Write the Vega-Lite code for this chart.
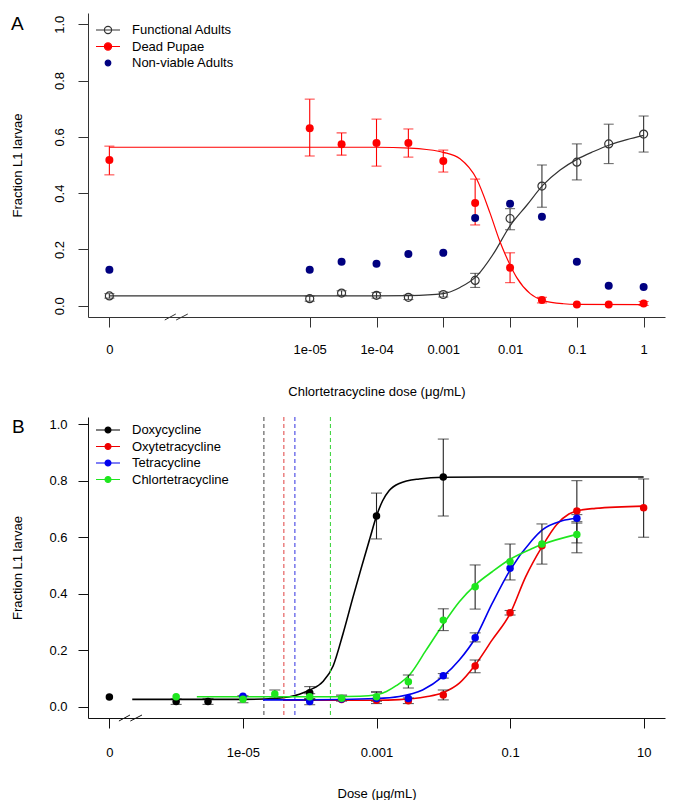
{
  "$schema": "https://vega.github.io/schema/vega-lite/v6.json",
  "background": "white",
  "autosize": {"type": "pad"},
  "padding": {"left": 10, "top": 13, "right": 5, "bottom": 0},
  "config": {
    "view": {"stroke": null},
    "font": "Liberation Sans",
    "axis": {"labelFont": "Liberation Sans", "titleFont": "Liberation Sans", "labelFontSize": 13, "titleFontSize": 13, "titleFontWeight": "normal", "labelColor": "#000", "titleColor": "#000", "grid": false, "tickSize": 10, "domainColor": "#333", "tickColor": "#333", "labelFlush": false, "labelOverlap": false},
    "legend": {"labelFont": "Liberation Sans", "labelFontSize": 13, "labelColor": "#000", "labelOffset": 15, "rowPadding": 0.5, "padding": 0},
    "title": {"font": "Liberation Sans", "fontSize": 19, "fontWeight": "normal", "color": "#000"}
  },
  "resolve": {
    "scale": {"stroke": "independent", "fill": "independent", "shape": "independent", "color": "independent"},
    "legend": {"stroke": "independent", "fill": "independent", "shape": "independent", "color": "independent"}
  },
  "datasets": {
    "a_points": [
      {"dose": 1e-8, "series": "Functional Adults", "value": 0.035, "lo": 0.027, "hi": 0.043},
      {"dose": 1e-5, "series": "Functional Adults", "value": 0.025, "lo": 0.016, "hi": 0.034},
      {"dose": 3e-5, "series": "Functional Adults", "value": 0.045, "lo": 0.037, "hi": 0.053},
      {"dose": 1e-4, "series": "Functional Adults", "value": 0.037, "lo": 0.027, "hi": 0.047},
      {"dose": 3e-4, "series": "Functional Adults", "value": 0.03, "lo": 0.022, "hi": 0.038},
      {"dose": 1e-3, "series": "Functional Adults", "value": 0.04, "lo": 0.031, "hi": 0.049},
      {"dose": 3e-3, "series": "Functional Adults", "value": 0.09, "lo": 0.065, "hi": 0.115},
      {"dose": 1e-2, "series": "Functional Adults", "value": 0.31, "lo": 0.27, "hi": 0.345},
      {"dose": 3e-2, "series": "Functional Adults", "value": 0.425, "lo": 0.35, "hi": 0.5},
      {"dose": 0.1, "series": "Functional Adults", "value": 0.51, "lo": 0.447, "hi": 0.575},
      {"dose": 0.3, "series": "Functional Adults", "value": 0.575, "lo": 0.505, "hi": 0.645},
      {"dose": 1, "series": "Functional Adults", "value": 0.61, "lo": 0.546, "hi": 0.674},
      {"dose": 1e-8, "series": "Dead Pupae", "value": 0.518, "lo": 0.465, "hi": 0.567},
      {"dose": 1e-5, "series": "Dead Pupae", "value": 0.631, "lo": 0.532, "hi": 0.734},
      {"dose": 3e-5, "series": "Dead Pupae", "value": 0.574, "lo": 0.535, "hi": 0.614},
      {"dose": 1e-4, "series": "Dead Pupae", "value": 0.578, "lo": 0.496, "hi": 0.663},
      {"dose": 3e-4, "series": "Dead Pupae", "value": 0.578, "lo": 0.528, "hi": 0.628},
      {"dose": 1e-3, "series": "Dead Pupae", "value": 0.514, "lo": 0.475, "hi": 0.553},
      {"dose": 3e-3, "series": "Dead Pupae", "value": 0.365, "lo": 0.287, "hi": 0.45},
      {"dose": 1e-2, "series": "Dead Pupae", "value": 0.135, "lo": 0.082, "hi": 0.188},
      {"dose": 3e-2, "series": "Dead Pupae", "value": 0.02, "lo": 0.01, "hi": 0.03},
      {"dose": 0.1, "series": "Dead Pupae", "value": 0.004},
      {"dose": 0.3, "series": "Dead Pupae", "value": 0.004},
      {"dose": 1, "series": "Dead Pupae", "value": 0.008, "lo": 0.001, "hi": 0.015},
      {"dose": 1e-8, "series": "Non-viable Adults", "value": 0.128},
      {"dose": 1e-5, "series": "Non-viable Adults", "value": 0.128},
      {"dose": 3e-5, "series": "Non-viable Adults", "value": 0.156},
      {"dose": 1e-4, "series": "Non-viable Adults", "value": 0.149},
      {"dose": 3e-4, "series": "Non-viable Adults", "value": 0.184},
      {"dose": 1e-3, "series": "Non-viable Adults", "value": 0.188},
      {"dose": 3e-3, "series": "Non-viable Adults", "value": 0.312},
      {"dose": 1e-2, "series": "Non-viable Adults", "value": 0.362},
      {"dose": 3e-2, "series": "Non-viable Adults", "value": 0.316},
      {"dose": 0.1, "series": "Non-viable Adults", "value": 0.156},
      {"dose": 0.3, "series": "Non-viable Adults", "value": 0.071},
      {"dose": 1, "series": "Non-viable Adults", "value": 0.067}
    ],
    "a_curves": [
      {"dose": 1e-8, "series": "Functional Adults", "value": 0.035},
      {"dose": 1e-5, "series": "Functional Adults", "value": 0.035},
      {"dose": 1e-4, "series": "Functional Adults", "value": 0.035},
      {"dose": 3.16e-4, "series": "Functional Adults", "value": 0.036},
      {"dose": 1e-3, "series": "Functional Adults", "value": 0.043},
      {"dose": 1.78e-3, "series": "Functional Adults", "value": 0.065},
      {"dose": 3.16e-3, "series": "Functional Adults", "value": 0.105},
      {"dose": 5.62e-3, "series": "Functional Adults", "value": 0.184},
      {"dose": 1e-2, "series": "Functional Adults", "value": 0.284},
      {"dose": 1.78e-2, "series": "Functional Adults", "value": 0.357},
      {"dose": 3.16e-2, "series": "Functional Adults", "value": 0.43},
      {"dose": 5.62e-2, "series": "Functional Adults", "value": 0.482},
      {"dose": 0.1, "series": "Functional Adults", "value": 0.52},
      {"dose": 0.178, "series": "Functional Adults", "value": 0.548},
      {"dose": 0.316, "series": "Functional Adults", "value": 0.572},
      {"dose": 0.562, "series": "Functional Adults", "value": 0.59},
      {"dose": 1, "series": "Functional Adults", "value": 0.605},
      {"dose": 1e-8, "series": "Dead Pupae", "value": 0.563},
      {"dose": 1e-5, "series": "Dead Pupae", "value": 0.563},
      {"dose": 1e-4, "series": "Dead Pupae", "value": 0.563},
      {"dose": 3.16e-4, "series": "Dead Pupae", "value": 0.56},
      {"dose": 5.62e-4, "series": "Dead Pupae", "value": 0.555},
      {"dose": 1e-3, "series": "Dead Pupae", "value": 0.545},
      {"dose": 1.78e-3, "series": "Dead Pupae", "value": 0.522},
      {"dose": 3.16e-3, "series": "Dead Pupae", "value": 0.45},
      {"dose": 5e-3, "series": "Dead Pupae", "value": 0.33},
      {"dose": 7e-3, "series": "Dead Pupae", "value": 0.23},
      {"dose": 1e-2, "series": "Dead Pupae", "value": 0.145},
      {"dose": 1.26e-2, "series": "Dead Pupae", "value": 0.1},
      {"dose": 2e-2, "series": "Dead Pupae", "value": 0.043},
      {"dose": 3.16e-2, "series": "Dead Pupae", "value": 0.018},
      {"dose": 6.3e-2, "series": "Dead Pupae", "value": 0.007},
      {"dose": 0.1, "series": "Dead Pupae", "value": 0.005},
      {"dose": 1, "series": "Dead Pupae", "value": 0.004}
    ],
    "a_break": [{"dose": 1e-7, "value": -0.04}],
    "b_points": [
      {"dose": 1e-7, "series": "Doxycycline", "value": 0.035},
      {"dose": 1e-6, "series": "Doxycycline", "value": 0.019, "lo": 0.009, "hi": 0.029},
      {"dose": 3e-6, "series": "Doxycycline", "value": 0.019, "lo": 0.009, "hi": 0.03},
      {"dose": 1e-4, "series": "Doxycycline", "value": 0.05, "lo": 0.028, "hi": 0.072},
      {"dose": 1e-3, "series": "Doxycycline", "value": 0.675, "lo": 0.594, "hi": 0.756},
      {"dose": 1e-2, "series": "Doxycycline", "value": 0.813, "lo": 0.675, "hi": 0.947},
      {"dose": 3e-4, "series": "Oxytetracycline", "value": 0.026},
      {"dose": 1e-3, "series": "Oxytetracycline", "value": 0.024, "lo": 0.012, "hi": 0.054},
      {"dose": 3e-3, "series": "Oxytetracycline", "value": 0.022, "lo": 0.012, "hi": 0.032},
      {"dose": 1e-2, "series": "Oxytetracycline", "value": 0.042, "lo": 0.025, "hi": 0.06},
      {"dose": 3e-2, "series": "Oxytetracycline", "value": 0.145, "lo": 0.121, "hi": 0.166},
      {"dose": 0.1, "series": "Oxytetracycline", "value": 0.333, "lo": 0.325, "hi": 0.341},
      {"dose": 0.3, "series": "Oxytetracycline", "value": 0.57},
      {"dose": 1, "series": "Oxytetracycline", "value": 0.693, "lo": 0.58, "hi": 0.8},
      {"dose": 10, "series": "Oxytetracycline", "value": 0.704, "lo": 0.6, "hi": 0.806},
      {"dose": 1e-5, "series": "Tetracycline", "value": 0.038},
      {"dose": 1e-4, "series": "Tetracycline", "value": 0.019, "lo": 0.008, "hi": 0.03},
      {"dose": 3e-4, "series": "Tetracycline", "value": 0.028},
      {"dose": 1e-3, "series": "Tetracycline", "value": 0.03},
      {"dose": 3e-3, "series": "Tetracycline", "value": 0.03},
      {"dose": 1e-2, "series": "Tetracycline", "value": 0.11, "lo": 0.102, "hi": 0.118},
      {"dose": 3e-2, "series": "Tetracycline", "value": 0.245, "lo": 0.23, "hi": 0.262},
      {"dose": 0.1, "series": "Tetracycline", "value": 0.49},
      {"dose": 1, "series": "Tetracycline", "value": 0.667, "lo": 0.655, "hi": 0.68},
      {"dose": 1e-6, "series": "Chlortetracycline", "value": 0.036},
      {"dose": 1e-5, "series": "Chlortetracycline", "value": 0.027, "lo": 0.015, "hi": 0.04},
      {"dose": 3e-5, "series": "Chlortetracycline", "value": 0.046, "lo": 0.031, "hi": 0.06},
      {"dose": 1e-4, "series": "Chlortetracycline", "value": 0.036, "lo": 0.025, "hi": 0.047},
      {"dose": 3e-4, "series": "Chlortetracycline", "value": 0.031, "lo": 0.02, "hi": 0.042},
      {"dose": 1e-3, "series": "Chlortetracycline", "value": 0.036, "lo": 0.02, "hi": 0.052},
      {"dose": 3e-3, "series": "Chlortetracycline", "value": 0.089, "lo": 0.067, "hi": 0.113},
      {"dose": 1e-2, "series": "Chlortetracycline", "value": 0.307, "lo": 0.27, "hi": 0.347},
      {"dose": 3e-2, "series": "Chlortetracycline", "value": 0.425, "lo": 0.346, "hi": 0.502},
      {"dose": 0.1, "series": "Chlortetracycline", "value": 0.513, "lo": 0.449, "hi": 0.576},
      {"dose": 0.3, "series": "Chlortetracycline", "value": 0.576, "lo": 0.505, "hi": 0.647},
      {"dose": 1, "series": "Chlortetracycline", "value": 0.61, "lo": 0.545, "hi": 0.65}
    ],
    "b_curves": [
      {"dose": 2.2e-7, "series": "Doxycycline", "value": 0.027},
      {"dose": 1e-6, "series": "Doxycycline", "value": 0.027},
      {"dose": 1e-5, "series": "Doxycycline", "value": 0.027},
      {"dose": 3e-5, "series": "Doxycycline", "value": 0.03},
      {"dose": 5e-5, "series": "Doxycycline", "value": 0.036},
      {"dose": 7e-5, "series": "Doxycycline", "value": 0.045},
      {"dose": 1e-4, "series": "Doxycycline", "value": 0.06},
      {"dose": 1.58e-4, "series": "Doxycycline", "value": 0.09},
      {"dose": 2.24e-4, "series": "Doxycycline", "value": 0.145},
      {"dose": 3.16e-4, "series": "Doxycycline", "value": 0.26},
      {"dose": 4.47e-4, "series": "Doxycycline", "value": 0.39},
      {"dose": 5.89e-4, "series": "Doxycycline", "value": 0.49},
      {"dose": 7.94e-4, "series": "Doxycycline", "value": 0.595},
      {"dose": 1e-3, "series": "Doxycycline", "value": 0.675},
      {"dose": 1.23e-3, "series": "Doxycycline", "value": 0.728},
      {"dose": 1.55e-3, "series": "Doxycycline", "value": 0.765},
      {"dose": 2.19e-3, "series": "Doxycycline", "value": 0.79},
      {"dose": 4.37e-3, "series": "Doxycycline", "value": 0.806},
      {"dose": 1e-2, "series": "Doxycycline", "value": 0.812},
      {"dose": 0.1, "series": "Doxycycline", "value": 0.813},
      {"dose": 10, "series": "Doxycycline", "value": 0.813},
      {"dose": 4e-5, "series": "Oxytetracycline", "value": 0.024},
      {"dose": 1e-4, "series": "Oxytetracycline", "value": 0.024},
      {"dose": 1e-3, "series": "Oxytetracycline", "value": 0.024},
      {"dose": 2.19e-3, "series": "Oxytetracycline", "value": 0.026},
      {"dose": 5.5e-3, "series": "Oxytetracycline", "value": 0.036},
      {"dose": 9.8e-3, "series": "Oxytetracycline", "value": 0.05},
      {"dose": 1.74e-2, "series": "Oxytetracycline", "value": 0.084},
      {"dose": 3e-2, "series": "Oxytetracycline", "value": 0.148},
      {"dose": 5.4e-2, "series": "Oxytetracycline", "value": 0.237},
      {"dose": 0.1, "series": "Oxytetracycline", "value": 0.33},
      {"dose": 0.171, "series": "Oxytetracycline", "value": 0.46},
      {"dose": 0.3, "series": "Oxytetracycline", "value": 0.566},
      {"dose": 0.5, "series": "Oxytetracycline", "value": 0.645},
      {"dose": 0.76, "series": "Oxytetracycline", "value": 0.682},
      {"dose": 1, "series": "Oxytetracycline", "value": 0.693},
      {"dose": 1.9, "series": "Oxytetracycline", "value": 0.702},
      {"dose": 10, "series": "Oxytetracycline", "value": 0.71},
      {"dose": 2e-5, "series": "Tetracycline", "value": 0.025},
      {"dose": 1e-4, "series": "Tetracycline", "value": 0.025},
      {"dose": 1e-3, "series": "Tetracycline", "value": 0.03},
      {"dose": 2.19e-3, "series": "Tetracycline", "value": 0.037},
      {"dose": 4.9e-3, "series": "Tetracycline", "value": 0.06},
      {"dose": 9.8e-3, "series": "Tetracycline", "value": 0.107},
      {"dose": 1.74e-2, "series": "Tetracycline", "value": 0.166},
      {"dose": 3e-2, "series": "Tetracycline", "value": 0.243},
      {"dose": 5.4e-2, "series": "Tetracycline", "value": 0.366},
      {"dose": 0.1, "series": "Tetracycline", "value": 0.484},
      {"dose": 0.215, "series": "Tetracycline", "value": 0.59},
      {"dose": 0.3, "series": "Tetracycline", "value": 0.625},
      {"dose": 0.6, "series": "Tetracycline", "value": 0.658},
      {"dose": 1, "series": "Tetracycline", "value": 0.667},
      {"dose": 2.04e-6, "series": "Chlortetracycline", "value": 0.036},
      {"dose": 1e-4, "series": "Chlortetracycline", "value": 0.036},
      {"dose": 5.6e-4, "series": "Chlortetracycline", "value": 0.038},
      {"dose": 1e-3, "series": "Chlortetracycline", "value": 0.043},
      {"dose": 1.41e-3, "series": "Chlortetracycline", "value": 0.055},
      {"dose": 2e-3, "series": "Chlortetracycline", "value": 0.076},
      {"dose": 3.16e-3, "series": "Chlortetracycline", "value": 0.115},
      {"dose": 5.5e-3, "series": "Chlortetracycline", "value": 0.2},
      {"dose": 9.8e-3, "series": "Chlortetracycline", "value": 0.29},
      {"dose": 1.74e-2, "series": "Chlortetracycline", "value": 0.372},
      {"dose": 3e-2, "series": "Chlortetracycline", "value": 0.431},
      {"dose": 5.4e-2, "series": "Chlortetracycline", "value": 0.478},
      {"dose": 0.1, "series": "Chlortetracycline", "value": 0.522},
      {"dose": 0.215, "series": "Chlortetracycline", "value": 0.56},
      {"dose": 0.3, "series": "Chlortetracycline", "value": 0.574},
      {"dose": 1, "series": "Chlortetracycline", "value": 0.61}
    ],
    "b_ic": [
      {"dose": 2.06e-5, "series": "Doxycycline"},
      {"dose": 4.1e-5, "series": "Oxytetracycline"},
      {"dose": 6.0e-5, "series": "Tetracycline"},
      {"dose": 2.04e-4, "series": "Chlortetracycline"}
    ],
    "b_break": [{"dose": 2.06e-7, "value": -0.039}]
  },
  "spacing": 18,
  "vconcat": [
    {
      "width": 577,
      "height": 304,
      "title": {"text": "A", "anchor": "start", "frame": "bounds", "baseline": "alphabetic", "offset": -16, "dy": 20},
      "encoding": {
        "x": {"field": "dose", "type": "quantitative", "scale": {"type": "log", "domain": [4.786e-9, 2.089], "nice": false}}
      },
      "layer": [
        {
          "data": {"name": "a_curves"},
          "transform": [{"filter": "datum.series == 'Functional Adults'"}],
          "mark": {"type": "line", "strokeWidth": 1.2, "interpolate": "monotone", "color": "#333333"},
          "encoding": {
            "x": {"field": "dose", "type": "quantitative", "scale": {"type": "log", "domain": [4.786e-9, 2.089], "nice": false},
              "axis": {"values": [1e-8, 1e-5, 1e-4, 1e-3, 1e-2, 0.1, 1], "labelExpr": "datum.value < 1e-7 ? '0' : datum.value < 5e-5 ? '1e-05' : datum.value < 5e-4 ? '1e-04' : datum.value < 5e-3 ? '0.001' : datum.value < 0.05 ? '0.01' : datum.value < 0.5 ? '0.1' : '1'", "labelPadding": 16, "title": "Chlortetracycline dose (μg/mL)", "titlePadding": 29}},
            "y": {"field": "value", "type": "quantitative", "scale": {"domain": [-0.04, 1.04], "nice": false, "zero": false},
              "axis": {"values": [0, 0.2, 0.4, 0.6, 0.8, 1], "format": ".1f", "labelAngle": 270, "labelAlign": "center", "labelBaseline": "bottom", "labelPadding": 12, "title": "Fraction L1 larvae", "titlePadding": 29}}
          }
        },
        {
          "data": {"name": "a_curves"},
          "transform": [{"filter": "datum.series == 'Dead Pupae'"}],
          "mark": {"type": "line", "strokeWidth": 1.2, "interpolate": "monotone", "color": "#ff0000"},
          "encoding": {
            "y": {"field": "value", "type": "quantitative"}
          }
        },
        {
          "data": {"name": "a_points"},
          "transform": [{"filter": "datum.series == 'Functional Adults' && datum.lo != null"}],
          "mark": {"type": "rule", "strokeWidth": 1.1, "color": "#333333"},
          "encoding": {
            "y": {"field": "lo", "type": "quantitative"},
            "y2": {"field": "hi"}
          }
        },
        {
          "data": {"name": "a_points"},
          "transform": [{"filter": "datum.series == 'Functional Adults' && datum.lo != null"}, {"fold": ["lo", "hi"], "as": ["end", "cap"]}],
          "mark": {"type": "tick", "orient": "horizontal", "size": 10, "thickness": 1.1, "color": "#333333"},
          "encoding": {
            "y": {"field": "cap", "type": "quantitative"}
          }
        },
        {
          "data": {"name": "a_points"},
          "transform": [{"filter": "datum.series == 'Dead Pupae' && datum.lo != null"}],
          "mark": {"type": "rule", "strokeWidth": 1.1, "color": "#ff0000"},
          "encoding": {
            "y": {"field": "lo", "type": "quantitative"},
            "y2": {"field": "hi"}
          }
        },
        {
          "data": {"name": "a_points"},
          "transform": [{"filter": "datum.series == 'Dead Pupae' && datum.lo != null"}, {"fold": ["lo", "hi"], "as": ["end", "cap"]}],
          "mark": {"type": "tick", "orient": "horizontal", "size": 10, "thickness": 1.1, "color": "#ff0000"},
          "encoding": {
            "y": {"field": "cap", "type": "quantitative"}
          }
        },
        {
          "data": {"name": "a_points"},
          "transform": [{"filter": "datum.series == 'Functional Adults'"}],
          "mark": {"type": "point", "shape": "circle", "size": 64, "strokeWidth": 1.2, "opacity": 1, "filled": false, "color": "#333333"},
          "encoding": {
            "y": {"field": "value", "type": "quantitative"}
          }
        },
        {
          "data": {"name": "a_points"},
          "transform": [{"filter": "datum.series == 'Dead Pupae'"}],
          "mark": {"type": "point", "shape": "circle", "size": 64, "strokeWidth": 1, "opacity": 1, "filled": true, "color": "#ff0000"},
          "encoding": {
            "y": {"field": "value", "type": "quantitative"}
          }
        },
        {
          "data": {"name": "a_points"},
          "transform": [{"filter": "datum.series == 'Non-viable Adults'"}],
          "mark": {"type": "point", "shape": "circle", "size": 64, "strokeWidth": 1, "opacity": 1, "filled": true, "color": "#000080"},
          "encoding": {
            "y": {"field": "value", "type": "quantitative"}
          }
        },
        {
          "data": {"values": []},
          "mark": {"type": "point", "size": 256, "strokeWidth": 1.2, "opacity": 1},
          "encoding": {
            "x": null,
            "stroke": {"field": "series", "type": "nominal", "scale": {"domain": ["Functional Adults", "Dead Pupae", "Non-viable Adults"], "range": ["#333333", "#ff0000", "#000080"]},
              "legend": {"title": null, "orient": "none", "legendX": 11, "legendY": 8, "symbolSize": 256, "symbolStrokeWidth": 1.2, "symbolOpacity": 1}},
            "fill": {"field": "series", "type": "nominal", "scale": {"domain": ["Functional Adults", "Dead Pupae", "Non-viable Adults"], "range": ["transparent", "#ff0000", "#000080"]},
              "legend": {"title": null, "orient": "none", "legendX": 11, "legendY": 8, "symbolSize": 256, "symbolStrokeWidth": 1.2, "symbolOpacity": 1}},
            "shape": {"field": "series", "type": "nominal", "scale": {"domain": ["Functional Adults", "Dead Pupae", "Non-viable Adults"], "range": ["M-1.5,0L1.5,0M0.45,0A0.45,0.45,0,1,1,-0.45,0A0.45,0.45,0,1,1,0.45,0Z", "M-1.5,0L1.5,0M0.45,0A0.45,0.45,0,1,1,-0.45,0A0.45,0.45,0,1,1,0.45,0Z", "M0.35,0A0.35,0.35,0,1,1,-0.35,0A0.35,0.35,0,1,1,0.35,0Z"]},
              "legend": {"title": null, "orient": "none", "legendX": 11, "legendY": 8, "symbolSize": 256, "symbolStrokeWidth": 1.2, "symbolOpacity": 1}}
          }
        },
        {
          "data": {"name": "a_break"},
          "mark": {"type": "point", "shape": "M-0.95,0.25L-0.03,-0.25M0,0.25L0.97,-0.25", "size": 576, "stroke": "#333", "strokeWidth": 1, "filled": false, "opacity": 1},
          "encoding": {
            "y": {"field": "value", "type": "quantitative"}
          }
        }
      ]
    },
    {
      "width": 577,
      "height": 301,
      "title": {"text": "B", "anchor": "start", "frame": "bounds", "baseline": "alphabetic", "offset": -15, "dy": 20},
      "encoding": {
        "x": {"field": "dose", "type": "quantitative", "scale": {"type": "log", "domain": [4.786e-8, 20.89], "nice": false}}
      },
      "layer": [
        {
          "data": {"name": "b_curves"},
          "transform": [{"filter": "datum.series == 'Doxycycline'"}],
          "mark": {"type": "line", "strokeWidth": 1.6, "interpolate": "monotone", "color": "#000000"},
          "encoding": {
            "x": {"field": "dose", "type": "quantitative", "scale": {"type": "log", "domain": [4.786e-8, 20.89], "nice": false},
              "axis": {"values": [1e-7, 1e-5, 1e-3, 0.1, 10], "labelExpr": "datum.value < 1e-6 ? '0' : datum.value < 1e-4 ? '1e-05' : datum.value < 0.01 ? '0.001' : datum.value < 1 ? '0.1' : '10'", "labelPadding": 18, "title": "Dose (μg/mL)", "titlePadding": 28, "domainColor": "#111", "tickColor": "#111"}},
            "y": {"field": "value", "type": "quantitative", "scale": {"domain": [-0.039, 1.025], "nice": false, "zero": false},
              "axis": {"values": [0, 0.2, 0.4, 0.6, 0.8, 1], "format": ".1f", "labelAngle": 0, "labelAlign": "right", "labelBaseline": "middle", "labelPadding": 11, "title": "Fraction L1 larvae", "titlePadding": 24, "domainColor": "#111", "tickColor": "#111"}}
          }
        },
        {
          "data": {"name": "b_ic"},
          "transform": [{"filter": "datum.series == 'Doxycycline'"}],
          "mark": {"type": "rule", "strokeWidth": 1, "strokeDash": [4, 3], "color": "#444444"},
          "encoding": {}
        },
        {
          "data": {"name": "b_ic"},
          "transform": [{"filter": "datum.series == 'Oxytetracycline'"}],
          "mark": {"type": "rule", "strokeWidth": 1, "strokeDash": [4, 3], "color": "#e04040"},
          "encoding": {}
        },
        {
          "data": {"name": "b_ic"},
          "transform": [{"filter": "datum.series == 'Tetracycline'"}],
          "mark": {"type": "rule", "strokeWidth": 1, "strokeDash": [4, 3], "color": "#3030e0"},
          "encoding": {}
        },
        {
          "data": {"name": "b_ic"},
          "transform": [{"filter": "datum.series == 'Chlortetracycline'"}],
          "mark": {"type": "rule", "strokeWidth": 1, "strokeDash": [4, 3], "color": "#30d030"},
          "encoding": {}
        },
        {
          "data": {"name": "b_curves"},
          "transform": [{"filter": "datum.series == 'Oxytetracycline'"}],
          "mark": {"type": "line", "strokeWidth": 1.6, "interpolate": "monotone", "color": "#ee0000"},
          "encoding": {"y": {"field": "value", "type": "quantitative"}}
        },
        {
          "data": {"name": "b_curves"},
          "transform": [{"filter": "datum.series == 'Tetracycline'"}],
          "mark": {"type": "line", "strokeWidth": 1.6, "interpolate": "monotone", "color": "#0000ee"},
          "encoding": {"y": {"field": "value", "type": "quantitative"}}
        },
        {
          "data": {"name": "b_curves"},
          "transform": [{"filter": "datum.series == 'Chlortetracycline'"}],
          "mark": {"type": "line", "strokeWidth": 1.6, "interpolate": "monotone", "color": "#1ee61e"},
          "encoding": {"y": {"field": "value", "type": "quantitative"}}
        },
        {
          "data": {"name": "b_points"},
          "transform": [{"filter": "datum.lo != null"}],
          "mark": {"type": "rule", "strokeWidth": 1.1, "color": "#222"},
          "encoding": {
            "y": {"field": "lo", "type": "quantitative"},
            "y2": {"field": "hi"}
          }
        },
        {
          "data": {"name": "b_points"},
          "transform": [{"filter": "datum.lo != null"}, {"fold": ["lo", "hi"], "as": ["end", "cap"]}],
          "mark": {"type": "tick", "orient": "horizontal", "size": 11, "thickness": 1.1, "color": "#222"},
          "encoding": {"y": {"field": "cap", "type": "quantitative"}}
        },
        {
          "data": {"name": "b_points"},
          "transform": [{"filter": "datum.series == 'Doxycycline'"}],
          "mark": {"type": "point", "shape": "circle", "size": 56, "strokeWidth": 1, "filled": true, "opacity": 1, "color": "#000000"},
          "encoding": {"y": {"field": "value", "type": "quantitative"}}
        },
        {
          "data": {"name": "b_points"},
          "transform": [{"filter": "datum.series == 'Oxytetracycline'"}],
          "mark": {"type": "point", "shape": "circle", "size": 56, "strokeWidth": 1, "filled": true, "opacity": 1, "color": "#ee0000"},
          "encoding": {"y": {"field": "value", "type": "quantitative"}}
        },
        {
          "data": {"name": "b_points"},
          "transform": [{"filter": "datum.series == 'Tetracycline'"}],
          "mark": {"type": "point", "shape": "circle", "size": 56, "strokeWidth": 1, "filled": true, "opacity": 1, "color": "#0000ee"},
          "encoding": {"y": {"field": "value", "type": "quantitative"}}
        },
        {
          "data": {"name": "b_points"},
          "transform": [{"filter": "datum.series == 'Chlortetracycline'"}],
          "mark": {"type": "point", "shape": "circle", "size": 56, "strokeWidth": 1, "filled": true, "opacity": 1, "color": "#1ee61e"},
          "encoding": {"y": {"field": "value", "type": "quantitative"}}
        },
        {
          "data": {"values": []},
          "mark": {"type": "point", "size": 256, "strokeWidth": 1.2, "opacity": 1},
          "encoding": {
            "x": null,
            "stroke": {"field": "series", "type": "nominal", "scale": {"domain": ["Doxycycline", "Oxytetracycline", "Tetracycline", "Chlortetracycline"], "range": ["#000000", "#ee0000", "#0000ee", "#1ee61e"]},
              "legend": {"title": null, "orient": "none", "legendX": 11, "legendY": 4, "symbolSize": 256, "symbolStrokeWidth": 1.2, "symbolOpacity": 1}},
            "fill": {"field": "series", "type": "nominal", "scale": {"domain": ["Doxycycline", "Oxytetracycline", "Tetracycline", "Chlortetracycline"], "range": ["#000000", "#ee0000", "#0000ee", "#1ee61e"]},
              "legend": {"title": null, "orient": "none", "legendX": 11, "legendY": 4, "symbolSize": 256, "symbolStrokeWidth": 1.2, "symbolOpacity": 1}},
            "shape": {"field": "series", "type": "nominal", "scale": {"domain": ["Doxycycline", "Oxytetracycline", "Tetracycline", "Chlortetracycline"], "range": ["M-1.5,0L1.5,0M0.37,0A0.37,0.37,0,1,1,-0.37,0A0.37,0.37,0,1,1,0.37,0Z", "M-1.5,0L1.5,0M0.37,0A0.37,0.37,0,1,1,-0.37,0A0.37,0.37,0,1,1,0.37,0Z", "M-1.5,0L1.5,0M0.37,0A0.37,0.37,0,1,1,-0.37,0A0.37,0.37,0,1,1,0.37,0Z", "M-1.5,0L1.5,0M0.37,0A0.37,0.37,0,1,1,-0.37,0A0.37,0.37,0,1,1,0.37,0Z"]},
              "legend": {"title": null, "orient": "none", "legendX": 11, "legendY": 4, "symbolSize": 256, "symbolStrokeWidth": 1.2, "symbolOpacity": 1}}
          }
        },
        {
          "data": {"name": "b_break"},
          "mark": {"type": "point", "shape": "M-0.95,0.25L-0.03,-0.25M0,0.25L0.97,-0.25", "size": 576, "stroke": "#111", "strokeWidth": 1, "filled": false, "opacity": 1},
          "encoding": {"y": {"field": "value", "type": "quantitative"}}
        }
      ]
    }
  ]
}
